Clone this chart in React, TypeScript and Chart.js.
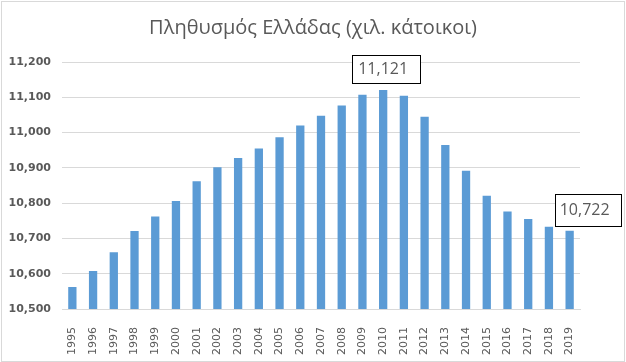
import React, { useEffect, useRef } from "react";
import { Chart, registerables } from "chart.js";

Chart.register(...registerables);

const chartTitle = "Πληθυσμός Ελλάδας (χιλ. κάτοικοι)";
const years = [
  "1995", "1996", "1997", "1998", "1999", "2000", "2001", "2002", "2003",
  "2004", "2005", "2006", "2007", "2008", "2009", "2010", "2011", "2012",
  "2013", "2014", "2015", "2016", "2017", "2018", "2019",
];
const population = [
  10562, 10608, 10661, 10721, 10762, 10806, 10862, 10902, 10928, 10955,
  10987, 11020, 11048, 11077, 11107, 11121, 11104, 11045, 10965, 10892,
  10821, 10776, 10755, 10733, 10722,
];
const yMin = 10500;
const yMax = 11200;
const yStep = 100;
const labelledYears = ["2010", "2019"];

const BAR_COLOR = "#5b9bd5";
const TEXT_COLOR = "#595959";
const GRID_COLOR = "#d9d9d9";

const labelStyles = [
  { dx: 0, boxDx: 3, w: 68, h: 28 },
  { dx: 15, boxDx: 3, w: 66, h: 32 },
];

const fmt = (v: number) => v.toLocaleString("en-US");

const calloutPlugin = {
  id: "callouts",
  afterDatasetsDraw(chart: any) {
    const { ctx } = chart;
    const xs = chart.scales.x;
    const ys = chart.scales.y;
    labelledYears.forEach((yr, i) => {
      const idx = years.indexOf(yr);
      const v = population[idx];
      const st = labelStyles[i];
      const cx = xs.getPixelForValue(idx) + st.dx;
      const cy = ys.getPixelForValue(v) - 21;
      ctx.save();
      const bx = Math.round(cx + st.boxDx - st.w / 2) + 0.5;
      const by = Math.round(cy - st.h / 2) + 0.5;
      ctx.fillStyle = "#ffffff";
      ctx.fillRect(bx, by, st.w, st.h);
      ctx.strokeStyle = "#000000";
      ctx.lineWidth = 1;
      ctx.strokeRect(bx, by, st.w, st.h);
      ctx.fillStyle = TEXT_COLOR;
      ctx.font = "16px 'Open Sans'";
      ctx.textAlign = "center";
      ctx.textBaseline = "middle";
      ctx.fillText(fmt(v), cx, cy + 1);
      ctx.restore();
    });
  },
};

const framePlugin = {
  id: "frame",
  afterDraw(chart: any) {
    const { ctx, width, height } = chart;
    ctx.save();
    ctx.strokeStyle = GRID_COLOR;
    ctx.lineWidth = 1;
    ctx.strokeRect(1.5, 1.5, width - 3, height - 2);
    ctx.restore();
  },
};

export default function App() {
  const ref = useRef<HTMLCanvasElement | null>(null);

  useEffect(() => {
    document.body.style.margin = "0";
    const canvas = ref.current;
    if (!canvas) return;
    const chart = new Chart(canvas, {
      type: "bar",
      data: {
        labels: years,
        datasets: [
          {
            data: population,
            backgroundColor: BAR_COLOR,
            barPercentage: 0.4,
            categoryPercentage: 1,
          },
        ],
      },
      plugins: [calloutPlugin, framePlugin],
      options: {
        responsive: false,
        animation: false,
        layout: { padding: { left: 0, right: 0, top: 0, bottom: 0 } },
        plugins: {
          legend: { display: false },
          tooltip: { enabled: false },
          title: {
            display: true,
            text: chartTitle,
            color: TEXT_COLOR,
            font: { family: "'Open Sans'", size: 20, weight: "normal" },
            padding: { top: 16, bottom: 22 },
          },
        },
        scales: {
          x: {
            grid: { display: false },
            border: { display: true, color: GRID_COLOR },
            ticks: {
              color: TEXT_COLOR,
              font: { family: "'DejaVu Sans'", size: 11 },
              minRotation: 90,
              maxRotation: 90,
              autoSkip: false,
              padding: 10,
            },
            afterFit(scale: any) {
              scale.height = 53;
            },
          },
          y: {
            min: yMin,
            max: yMax,
            grid: { color: GRID_COLOR, drawTicks: false },
            border: { display: false },
            ticks: {
              stepSize: yStep,
              color: TEXT_COLOR,
              font: { family: "'DejaVu Sans'", size: 11, weight: "bold" },
              padding: 11,
              callback: (v: any) => fmt(Number(v)),
            },
            afterFit(scale: any) {
              scale.width = 62;
            },
          },
          yPad: {
            position: "right",
            display: true,
            grid: { display: false, drawTicks: false },
            border: { display: false },
            ticks: { display: false },
            afterFit(scale: any) {
              scale.width = 46;
            },
          },
        },
      },
    });
    return () => chart.destroy();
  }, []);

  return (
    <div style={{ width: 626, height: 362 }}>
      <canvas ref={ref} width={626} height={362} />
    </div>
  );
}
